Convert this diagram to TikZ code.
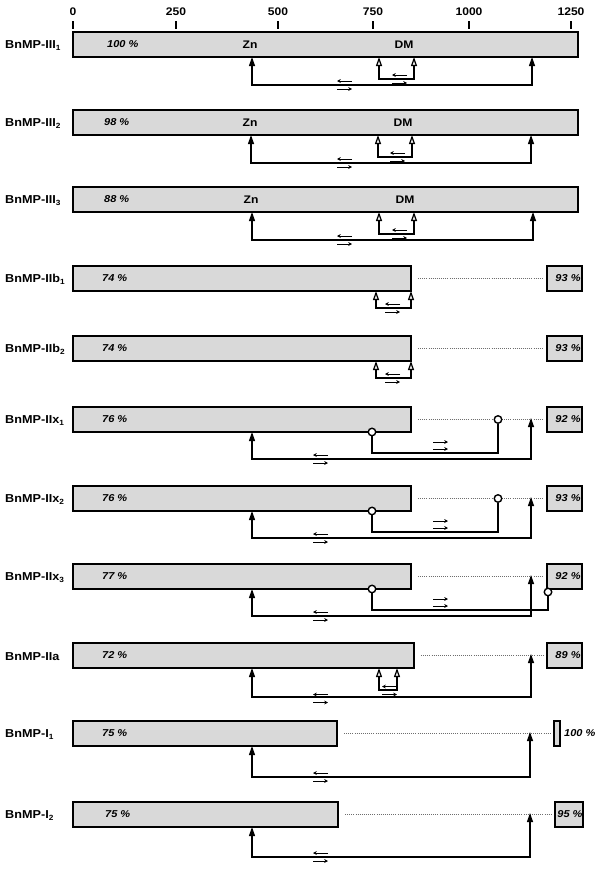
\documentclass[tikz,border=0pt]{standalone}
\usepackage{fontspec}
\setmainfont{Liberation Sans}
\newfontfamily\labfont[FakeStretch=1.1]{Liberation Sans}
\usetikzlibrary{arrows.meta}
\definecolor{barfill}{RGB}{217,217,217}
\definecolor{dotcol}{RGB}{110,110,110}
\newcommand\sbx[1]{\raisebox{-0.35ex}{\fontsize{7.5}{8}\selectfont #1}}
\newcommand\lrarr[2]{\draw[sml] (#1+7.5,#2-4) -- (#1-7.5,#2-4); \draw[sml] (#1-7.5,#2+4) -- (#1+7.5,#2+4);}
\newcommand\rrarr[2]{\draw[sml] (#1-7.5,#2-3.5) -- (#1+7.5,#2-3.5); \draw[sml] (#1-7.5,#2+3.5) -- (#1+7.5,#2+3.5);}
\begin{document}
\begin{tikzpicture}[x=1pt,y=-1pt,
  bar/.style={draw, line width=1.8pt, fill=barfill, inner sep=0pt, outer sep=0pt, anchor=north west, minimum height=25pt},
  pbox/.style={bar},
  lbl/.style={anchor=west, inner sep=0pt, yshift=-1pt, font=\labfont\bfseries\fontsize{11.5}{13}\selectfont},
  pct/.style={anchor=west, inner sep=0pt, font=\labfont\bfseries\itshape\fontsize{10}{12}\selectfont},
  bpct/.style={inner sep=0pt, font=\labfont\bfseries\itshape\fontsize{10}{12}\selectfont},
  motif/.style={inner sep=0pt, font=\labfont\bfseries\fontsize{11}{13}\selectfont},
  tick/.style={inner sep=0pt, font=\labfont\bfseries\fontsize{11}{13}\selectfont},
  tickl/.style={line width=1.2pt},
  znl/.style={line width=1.2pt, {Triangle[width=6pt,length=9pt]}-{Triangle[width=6pt,length=9pt]}},
  dml/.style={line width=1.2pt, {Triangle[width=6pt,length=9pt,fill=gray!15]}-{Triangle[width=6pt,length=9pt,fill=gray!15]}},
  cirl/.style={line width=1.2pt},
  circ/.style={circle, draw, line width=1.4pt, fill=white, minimum size=7.5pt, inner sep=0pt},
  dotl/.style={dotcol, line width=1pt, dash pattern=on 1pt off 1.1pt},
  sml/.style={line width=0.75pt, -{Stealth[length=3.8pt,width=3.8pt]}}
]
\useasboundingbox (0,0) rectangle (600,870);

% scale
\foreach \xx/\vv [count=\i] in {73/0,176/250,278/500,373/750,469/1000,571/1250}{
  \node[tick] (t\i) at (\xx,12) {\vv};
  \draw[tickl] (\xx,21) -- (\xx,29);
}

% ---------- Row 1
\node[bar, minimum width=505pt] (b1) at (73,32) {};
\node[lbl] (l1) at (5,44.5) {BnMP-III\sbx{1}};
\node[pct] (p1) at (107,44.5) {100 \%};
\node[motif] (zt1) at (250,44.5) {Zn};
\node[motif] (dt1) at (404,44.5) {DM};
\coordinate (zn1) at (252,57); \coordinate (ct1) at (532,57);
\coordinate (da1) at (379,57); \coordinate (db1) at (414,57);
\coordinate (o1) at (0,85); \coordinate (i1) at (0,79);
\draw[znl] (zn1) -- (zn1 |- o1) -- (ct1 |- o1) -- (ct1);
\draw[dml] (da1) -- (da1 |- i1) -- (db1 |- i1) -- (db1);
\lrarr{344.5}{85}
\lrarr{399.5}{79}

% ---------- Row 2
\node[bar, minimum width=505pt] (b2) at (73,110) {};
\node[lbl] (l2) at (5,122.5) {BnMP-III\sbx{2}};
\node[pct] (p2) at (104,122.5) {98 \%};
\node[motif] (zt2) at (250,122.5) {Zn};
\node[motif] (dt2) at (403,122.5) {DM};
\coordinate (zn2) at (251,135); \coordinate (ct2) at (531,135);
\coordinate (da2) at (378,135); \coordinate (db2) at (412,135);
\coordinate (o2) at (0,163); \coordinate (i2) at (0,157);
\draw[znl] (zn2) -- (zn2 |- o2) -- (ct2 |- o2) -- (ct2);
\draw[dml] (da2) -- (da2 |- i2) -- (db2 |- i2) -- (db2);
\lrarr{344.5}{163}
\lrarr{397.5}{157}

% ---------- Row 3
\node[bar, minimum width=505pt] (b3) at (73,187) {};
\node[lbl] (l3) at (5,199.5) {BnMP-III\sbx{3}};
\node[pct] (p3) at (104,199.5) {88 \%};
\node[motif] (zt3) at (251,199.5) {Zn};
\node[motif] (dt3) at (405,199.5) {DM};
\coordinate (zn3) at (252,212); \coordinate (ct3) at (533,212);
\coordinate (da3) at (379,212); \coordinate (db3) at (414,212);
\coordinate (o3) at (0,240); \coordinate (i3) at (0,234);
\draw[znl] (zn3) -- (zn3 |- o3) -- (ct3 |- o3) -- (ct3);
\draw[dml] (da3) -- (da3 |- i3) -- (db3 |- i3) -- (db3);
\lrarr{344.5}{240}
\lrarr{399.5}{234}

% ---------- Row 4
\node[bar, minimum width=338pt] (b4) at (73,266) {};
\node[lbl] (l4) at (5,278.5) {BnMP-IIb\sbx{1}};
\node[pct] (p4) at (102,278.5) {74 \%};
\node[pbox, minimum width=35pt] (bx4) at (547,266) {};
\node[bpct] (q4) at (568,278.5) {93 \%};
\draw[dotl] ([xshift=7pt]b4.east) -- ([xshift=-4pt]bx4.west);
\coordinate (da4) at (376,291); \coordinate (db4) at (411,291);
\coordinate (i4) at (0,308);
\draw[dml] (da4) -- (da4 |- i4) -- (db4 |- i4) -- (db4);
\lrarr{392.5}{308}

% ---------- Row 5
\node[bar, minimum width=338pt] (b5) at (73,336) {};
\node[lbl] (l5) at (5,348.5) {BnMP-IIb\sbx{2}};
\node[pct] (p5) at (102,348.5) {74 \%};
\node[pbox, minimum width=35pt] (bx5) at (547,336) {};
\node[bpct] (q5) at (568,348.5) {93 \%};
\draw[dotl] ([xshift=7pt]b5.east) -- ([xshift=-4pt]bx5.west);
\coordinate (da5) at (376,361); \coordinate (db5) at (411,361);
\coordinate (i5) at (0,378);
\draw[dml] (da5) -- (da5 |- i5) -- (db5 |- i5) -- (db5);
\lrarr{392.5}{378}

% ---------- Row 6
\node[bar, minimum width=338pt] (b6) at (73,407) {};
\node[lbl] (l6) at (5,419.5) {BnMP-IIx\sbx{1}};
\node[pct] (p6) at (102,419.5) {76 \%};
\node[pbox, minimum width=35pt] (bx6) at (547,407) {};
\node[bpct] (q6) at (568,419.5) {92 \%};
\draw[dotl] ([xshift=7pt]b6.east) -- ([xshift=-4pt]bx6.west);
\coordinate (zn6) at (252,432); \coordinate (ct6) at (531,418);
\coordinate (o6) at (0,459); \coordinate (i6) at (0,453);
\node[circ] (ca6) at (372,432) {};
\node[circ] (cb6) at (498,419.5) {};
\draw[znl] (zn6) -- (zn6 |- o6) -- (ct6 |- o6) -- (ct6);
\draw[cirl] (ca6) -- (ca6 |- i6) -- (cb6 |- i6) -- (cb6);
\rrarr{440.5}{445.5}
\lrarr{320.5}{459}

% ---------- Row 7
\node[bar, minimum width=338pt] (b7) at (73,486) {};
\node[lbl] (l7) at (5,498.5) {BnMP-IIx\sbx{2}};
\node[pct] (p7) at (102,498.5) {76 \%};
\node[pbox, minimum width=35pt] (bx7) at (547,486) {};
\node[bpct] (q7) at (568,498.5) {93 \%};
\draw[dotl] ([xshift=7pt]b7.east) -- ([xshift=-4pt]bx7.west);
\coordinate (zn7) at (252,511); \coordinate (ct7) at (531,497);
\coordinate (o7) at (0,538); \coordinate (i7) at (0,532);
\node[circ] (ca7) at (372,511) {};
\node[circ] (cb7) at (498,498.5) {};
\draw[znl] (zn7) -- (zn7 |- o7) -- (ct7 |- o7) -- (ct7);
\draw[cirl] (ca7) -- (ca7 |- i7) -- (cb7 |- i7) -- (cb7);
\rrarr{440.5}{524.5}
\lrarr{320.5}{538}

% ---------- Row 8
\node[bar, minimum width=338pt] (b8) at (73,564) {};
\node[lbl] (l8) at (5,576.5) {BnMP-IIx\sbx{3}};
\node[pct] (p8) at (102,576.5) {77 \%};
\node[pbox, minimum width=35pt] (bx8) at (547,564) {};
\node[bpct] (q8) at (568,576.5) {92 \%};
\draw[dotl] ([xshift=7pt]b8.east) -- ([xshift=-4pt]bx8.west);
\coordinate (zn8) at (252,589); \coordinate (ct8) at (531,575);
\coordinate (o8) at (0,616); \coordinate (i8) at (0,610);
\node[circ] (ca8) at (372,589) {};
\node[circ] (cb8) at (548,592) {};
\draw[znl] (zn8) -- (zn8 |- o8) -- (ct8 |- o8) -- (ct8);
\draw[cirl] (ca8) -- (ca8 |- i8) -- (cb8 |- i8) -- (cb8);
\rrarr{440.5}{602.5}
\lrarr{320.5}{616}

% ---------- Row 9
\node[bar, minimum width=341pt] (b9) at (73,643) {};
\node[lbl] (l9) at (5,655.5) {BnMP-IIa};
\node[pct] (p9) at (102,655.5) {72 \%};
\node[pbox, minimum width=35pt] (bx9) at (547,643) {};
\node[bpct] (q9) at (568,655.5) {89 \%};
\draw[dotl] ([xshift=7pt]b9.east) -- ([xshift=-4pt]bx9.west);
\coordinate (zn9) at (252,668); \coordinate (ct9) at (531,654);
\coordinate (da9) at (379,668); \coordinate (db9) at (397,668);
\coordinate (o9) at (0,697); \coordinate (i9) at (0,690);
\draw[znl] (zn9) -- (zn9 |- o9) -- (ct9 |- o9) -- (ct9);
\draw[dml] (da9) -- (da9 |- i9) -- (db9 |- i9) -- (db9);
\lrarr{320.5}{698.5}
\lrarr{389.5}{690.5}

% ---------- Row 10
\node[bar, minimum width=264pt] (b10) at (73,721) {};
\node[lbl] (l10) at (5,733.5) {BnMP-I\sbx{1}};
\node[pct] (p10) at (102,733.5) {75 \%};
\node[pbox, minimum width=6pt] (bx10) at (554,721) {};
\node[pct] (q10) at (564,733.5) {100 \%};
\draw[dotl] ([xshift=7pt]b10.east) -- ([xshift=-4pt]bx10.west);
\coordinate (zn10) at (252,746); \coordinate (ct10) at (530,732);
\coordinate (o10) at (0,777);
\draw[znl] (zn10) -- (zn10 |- o10) -- (ct10 |- o10) -- (ct10);
\lrarr{320.5}{777}

% ---------- Row 11
\node[bar, minimum width=265pt] (b11) at (73,802) {};
\node[lbl] (l11) at (5,814.5) {BnMP-I\sbx{2}};
\node[pct] (p11) at (105,814.5) {75 \%};
\node[pbox, minimum width=28pt] (bx11) at (555,802) {};
\node[bpct] (q11) at (570,814.5) {95 \%};
\draw[dotl] ([xshift=7pt]b11.east) -- ([xshift=-4pt]bx11.west);
\coordinate (zn11) at (252,827); \coordinate (ct11) at (530,813);
\coordinate (o11) at (0,857);
\draw[znl] (zn11) -- (zn11 |- o11) -- (ct11 |- o11) -- (ct11);
\lrarr{320.5}{857}

\end{tikzpicture}
\end{document}
